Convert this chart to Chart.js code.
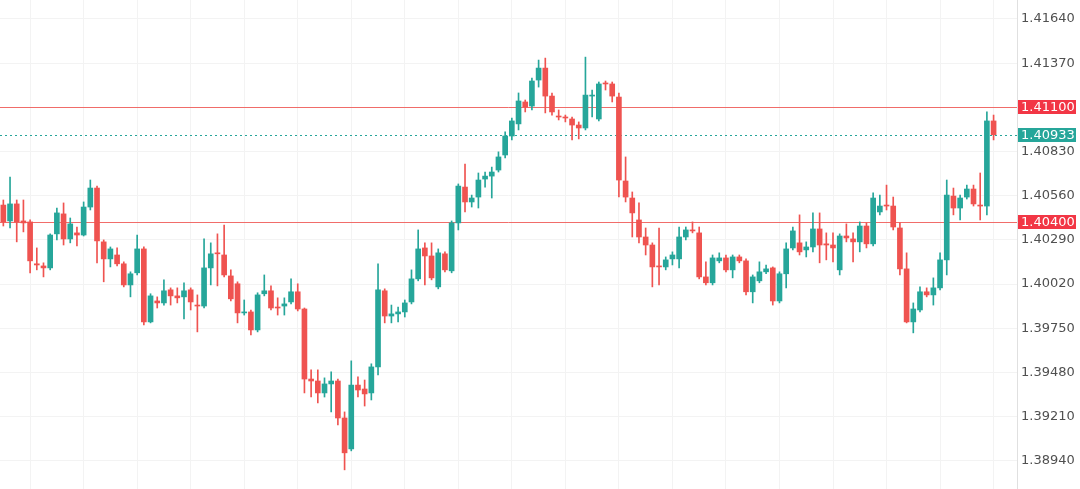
<!DOCTYPE html>
<html>
<head>
<meta charset="utf-8">
<title>Candles</title>
<script src="https://cdn.jsdelivr.net/npm/chart.js@4/dist/chart.umd.min.js"></script>
<style>
  html, body { margin: 0; padding: 0; background: #fff; }
  #wrap { width: 1080px; height: 489px; position: relative; }
</style>
</head>
<body>
<div id="wrap"><canvas id="c"></canvas></div>
<script>
// OHLC values, one candle per slot (149 candles, 3 empty slots at the end)
const opens = [
  1.40503, 1.40406, 1.40510, 1.40406, 1.40400, 1.40144, 1.40131, 1.40119, 1.40327, 1.40449,
  1.40296, 1.40333, 1.40320, 1.40491, 1.40607, 1.40278, 1.40174, 1.40198, 1.40144, 1.40015,
  1.40089, 1.40235, 1.39789, 1.39917, 1.39905, 1.39985, 1.39948, 1.39942, 1.39985, 1.39892,
  1.39886, 1.40119, 1.40211, 1.40198, 1.40070, 1.40022, 1.39844, 1.39850, 1.39740, 1.39961,
  1.39979, 1.39880, 1.39886, 1.39911, 1.39973, 1.39868, 1.39440, 1.39428, 1.39355, 1.39410,
  1.39428, 1.39202, 1.39013, 1.39403, 1.39379, 1.39355, 1.39514, 1.39979, 1.39825, 1.39838,
  1.39850, 1.39911, 1.40052, 1.40241, 1.40192, 1.40003, 1.40205, 1.40101, 1.40394, 1.40613,
  1.40522, 1.40552, 1.40662, 1.40680, 1.40717, 1.40809, 1.40925, 1.40999, 1.41133, 1.41108,
  1.41267, 1.41340, 1.41169, 1.41047, 1.41041, 1.41029, 1.40992, 1.40974, 1.41169, 1.41029,
  1.41249, 1.41243, 1.41163, 1.40650, 1.40546, 1.40412, 1.40308, 1.40259, 1.40131, 1.40125,
  1.40174, 1.40174, 1.40308, 1.40351, 1.40333, 1.40064, 1.40028, 1.40162, 1.40180, 1.40107,
  1.40186, 1.40162, 1.39973, 1.40040, 1.40095, 1.40119, 1.39917, 1.40083, 1.40241, 1.40272,
  1.40229, 1.40247, 1.40357, 1.40266, 1.40259, 1.40107, 1.40314, 1.40296, 1.40278, 1.40375,
  1.40266, 1.40461, 1.40503, 1.40497, 1.40363, 1.40113, 1.39789, 1.39862, 1.39973, 1.39954,
  1.39997, 1.40168, 1.40558, 1.40485, 1.40552, 1.40601, 1.40503, 1.40497, 1.41017
];
const highs = [
  1.40534, 1.40674, 1.40534, 1.40534, 1.40412, 1.40241, 1.40150, 1.40327, 1.40485, 1.40516,
  1.40424, 1.40369, 1.40522, 1.40656, 1.40619, 1.40290, 1.40247, 1.40241, 1.40156, 1.40095,
  1.40320, 1.40247, 1.39961, 1.39942, 1.40046, 1.39997, 1.39997, 1.40028, 1.39997, 1.39954,
  1.40296, 1.40272, 1.40327, 1.40381, 1.40107, 1.40034, 1.39923, 1.39862, 1.39967, 1.40076,
  1.40009, 1.39936, 1.39936, 1.40052, 1.40022, 1.39874, 1.39496, 1.39496, 1.39447, 1.39484,
  1.39440, 1.39239, 1.39551, 1.39453, 1.39434, 1.39533, 1.40144, 1.39991, 1.39892, 1.39880,
  1.39923, 1.40107, 1.40351, 1.40272, 1.40272, 1.40235, 1.40217, 1.40406, 1.40632, 1.40754,
  1.40564, 1.40699, 1.40705, 1.40735, 1.40828, 1.40950, 1.41035, 1.41188, 1.41145, 1.41279,
  1.41389, 1.41401, 1.41188, 1.41084, 1.41053, 1.41041, 1.41011, 1.41407, 1.41206, 1.41255,
  1.41261, 1.41255, 1.41188, 1.40797, 1.40583, 1.40516, 1.40363, 1.40272, 1.40363, 1.40186,
  1.40217, 1.40369, 1.40369, 1.40400, 1.40369, 1.40156, 1.40198, 1.40211, 1.40198, 1.40198,
  1.40198, 1.40174, 1.40076, 1.40156, 1.40137, 1.40125, 1.40095, 1.40272, 1.40369, 1.40443,
  1.40278, 1.40455, 1.40455, 1.40333, 1.40333, 1.40327, 1.40388, 1.40333, 1.40400, 1.40394,
  1.40577, 1.40564, 1.40625, 1.40552, 1.40394, 1.40211, 1.39905, 1.40003, 1.39997, 1.40058,
  1.40211, 1.40656, 1.40607, 1.40564, 1.40625, 1.40625, 1.40699, 1.41072, 1.41053
];
const lows = [
  1.40375, 1.40363, 1.40278, 1.40339, 1.40089, 1.40107, 1.40064, 1.40107, 1.40290, 1.40259,
  1.40272, 1.40253, 1.40314, 1.40473, 1.40150, 1.40034, 1.40125, 1.40131, 1.40003, 1.39942,
  1.40076, 1.39770, 1.39783, 1.39874, 1.39892, 1.39892, 1.39905, 1.39807, 1.39862, 1.39728,
  1.39874, 1.40015, 1.40009, 1.40064, 1.39917, 1.39783, 1.39831, 1.39709, 1.39728, 1.39948,
  1.39862, 1.39831, 1.39831, 1.39899, 1.39856, 1.39355, 1.39330, 1.39294, 1.39330, 1.39239,
  1.39159, 1.38885, 1.39001, 1.39330, 1.39275, 1.39312, 1.39465, 1.39783, 1.39783, 1.39789,
  1.39819, 1.39899, 1.40040, 1.40015, 1.40046, 1.39991, 1.40095, 1.40089, 1.40351, 1.40461,
  1.40491, 1.40485, 1.40613, 1.40546, 1.40705, 1.40791, 1.40901, 1.40962, 1.41072, 1.41084,
  1.41224, 1.41066, 1.41053, 1.41023, 1.41011, 1.40901, 1.40907, 1.40962, 1.41041, 1.41017,
  1.41206, 1.41133, 1.40552, 1.40522, 1.40308, 1.40272, 1.40198, 1.40003, 1.40015, 1.40107,
  1.40137, 1.40119, 1.40290, 1.40333, 1.40052, 1.40015, 1.40015, 1.40150, 1.40095, 1.40058,
  1.40150, 1.39954, 1.39905, 1.40028, 1.40083, 1.39892, 1.39905, 1.39997, 1.40229, 1.40198,
  1.40186, 1.40217, 1.40150, 1.40168, 1.40156, 1.40076, 1.40278, 1.40156, 1.40217, 1.40241,
  1.40253, 1.40443, 1.40473, 1.40351, 1.40076, 1.39783, 1.39722, 1.39850, 1.39942, 1.39892,
  1.39985, 1.40076, 1.40443, 1.40412, 1.40540, 1.40497, 1.40412, 1.40443, 1.40901
];
const closes = [
  1.40400, 1.40510, 1.40400, 1.40394, 1.40162, 1.40137, 1.40119, 1.40320, 1.40455, 1.40296,
  1.40388, 1.40320, 1.40491, 1.40607, 1.40284, 1.40174, 1.40235, 1.40144, 1.40015, 1.40083,
  1.40235, 1.39789, 1.39948, 1.39905, 1.39979, 1.39948, 1.39936, 1.39979, 1.39911, 1.39886,
  1.40119, 1.40205, 1.40205, 1.40076, 1.39930, 1.39844, 1.39850, 1.39740, 1.39954, 1.39979,
  1.39874, 1.39874, 1.39899, 1.39973, 1.39868, 1.39440, 1.39428, 1.39355, 1.39410, 1.39428,
  1.39202, 1.38989, 1.39403, 1.39373, 1.39349, 1.39514, 1.39985, 1.39825, 1.39838, 1.39850,
  1.39905, 1.40052, 1.40235, 1.40192, 1.40058, 1.40211, 1.40107, 1.40394, 1.40619, 1.40522,
  1.40546, 1.40656, 1.40680, 1.40705, 1.40797, 1.40925, 1.41017, 1.41139, 1.41102, 1.41261,
  1.41340, 1.41169, 1.41072, 1.41041, 1.41035, 1.40992, 1.40974, 1.41175, 1.41175, 1.41243,
  1.41243, 1.41169, 1.40656, 1.40552, 1.40455, 1.40308, 1.40259, 1.40125, 1.40125, 1.40168,
  1.40198, 1.40308, 1.40351, 1.40345, 1.40064, 1.40028, 1.40180, 1.40180, 1.40107, 1.40186,
  1.40162, 1.39973, 1.40064, 1.40095, 1.40113, 1.39917, 1.40083, 1.40235, 1.40345, 1.40217,
  1.40247, 1.40357, 1.40259, 1.40259, 1.40241, 1.40314, 1.40302, 1.40278, 1.40375, 1.40266,
  1.40546, 1.40497, 1.40497, 1.40369, 1.40113, 1.39789, 1.39868, 1.39973, 1.39954, 1.39997,
  1.40168, 1.40564, 1.40485, 1.40546, 1.40601, 1.40510, 1.40497, 1.41017, 1.40933
];

const emptySlots = 3;
const yTicks = [1.38940, 1.39210, 1.39480, 1.39750, 1.40020, 1.40290, 1.40560, 1.40830, 1.41100, 1.41370, 1.41640];
const yMin = 1.38768;
const yMax = 1.41756;
const levels = [1.41100, 1.40400];  // red horizontal levels
const lastPrice = 1.40933;          // teal dotted line

const UP = '#26a69a';
const DOWN = '#ef5350';
const LEVEL = '#ef5350';
const FONT = '"DejaVu Sans", Arial, sans-serif';

const n = opens.length + emptySlots;
const labels = [];
for (let i = 0; i < n; i++) labels.push(String(i + 1));

const wicks = [], bodies = [];
for (let i = 0; i < n; i++) {
  if (i < opens.length) {
    wicks.push([lows[i], highs[i]]);
    bodies.push([opens[i], closes[i]]);
  } else {
    wicks.push(null);
    bodies.push(null);
  }
}
function candleColor(c) {
  const i = c.dataIndex;
  return closes[i] >= opens[i] ? UP : DOWN;
}

// level lines + price boxes on the axis
const levelPlugin = {
  id: 'levels',
  beforeDatasetsDraw(chart) {
    const { ctx, chartArea } = chart;
    const y = chart.scales.y;
    ctx.save();
    ctx.lineWidth = 1;
    ctx.strokeStyle = LEVEL;
    ctx.globalAlpha = 0.85;
    levels.forEach(function (v) {
      const py = Math.round(y.getPixelForValue(v)) + 0.5;
      ctx.beginPath();
      ctx.moveTo(chartArea.left, py);
      ctx.lineTo(chartArea.right, py);
      ctx.stroke();
    });
    ctx.globalAlpha = 1;
    ctx.strokeStyle = UP;
    ctx.setLineDash([2, 3]);
    const pl = Math.round(y.getPixelForValue(lastPrice)) + 0.5;
    ctx.beginPath();
    ctx.moveTo(chartArea.left, pl);
    ctx.lineTo(chartArea.right, pl);
    ctx.stroke();
    ctx.restore();
  },
  afterDraw(chart) {
    const { ctx, chartArea } = chart;
    const y = chart.scales.y;
    function box(v, color) {
      const py = y.getPixelForValue(v);
      ctx.fillStyle = color;
      ctx.fillRect(chartArea.right + 1, Math.round(py - 7), 58, 14);
      ctx.fillStyle = '#fff';
      ctx.font = '13px ' + FONT;
      ctx.textBaseline = 'middle';
      ctx.textAlign = 'left';
      ctx.fillText(v.toFixed(5), chartArea.right + 4, py + 0.5);
    }
    ctx.save();
    levels.forEach(function (v) { box(v, '#f23645'); });
    box(lastPrice, UP);
    ctx.restore();
  }
};

new Chart(document.getElementById('c'), {
  type: 'bar',
  data: {
    labels: labels,
    datasets: [
      {
        label: 'body',
        data: bodies,
        backgroundColor: candleColor,
        barThickness: 5,
        minBarLength: 1,
        grouped: false
      },
      {
        label: 'wick',
        data: wicks,
        backgroundColor: candleColor,
        barThickness: 1,
        grouped: false
      }
    ]
  },
  options: {
    responsive: true,
    maintainAspectRatio: false,
    animation: false,
    layout: { padding: 0 },
    plugins: {
      legend: { display: false },
      tooltip: { enabled: false }
    },
    scales: {
      x: {
        offset: true,
        ticks: { display: false, autoSkip: false },
        border: { display: false },
        afterFit: function (s) { s.height = 0; s.paddingLeft = 0; s.paddingRight = 0; },
        grid: {
          offset: false,
          drawTicks: false,
          color: function (c) { return c.index % 8 === 4 ? '#f3f3f3' : 'rgba(0,0,0,0)'; }
        }
      },
      y: {
        position: 'right',
        min: yMin,
        max: yMax,
        afterBuildTicks: function (s) { s.ticks = yTicks.map(function (v) { return { value: v }; }); },
        afterFit: function (s) { s.width = 63; s.paddingTop = 0; s.paddingBottom = 0; },
        border: { display: true, color: '#e0e0e0' },
        grid: { color: '#f3f3f3', drawTicks: false },
        ticks: {
          padding: 4,
          color: '#505050',
          font: { family: FONT, size: 13 },
          callback: function (v) { return Number(v).toFixed(5); }
        }
      }
    }
  },
  plugins: [levelPlugin]
});
</script>
</body>
</html>
